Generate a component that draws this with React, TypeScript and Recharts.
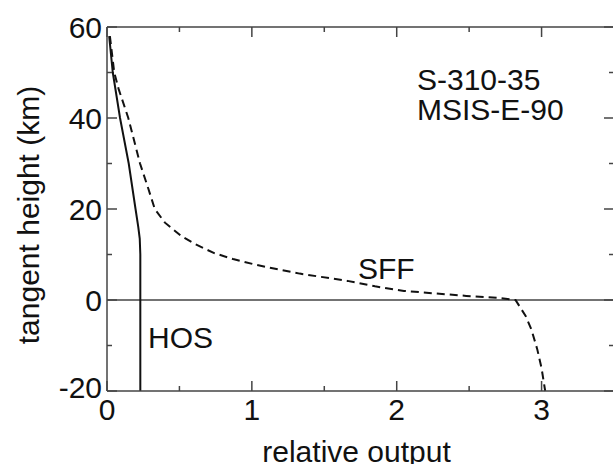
import { LineChart, Line, XAxis, YAxis, ReferenceLine } from "recharts";

// axis ticks
const X_TICKS = [0, 0.5, 1, 1.5, 2, 2.5, 3, 3.5];
const X_LABELS = [0, 1, 2, 3];
const Y_TICKS = [-20, -10, 0, 10, 20, 30, 40, 50, 60];
const Y_LABELS = [-20, 0, 20, 40, 60];

// HOS (solid)
const HOS_X = [0.015, 0.04, 0.09, 0.15, 0.197, 0.216, 0.226, 0.23, 0.23];
const HOS_H = [58, 50, 40, 30, 20, 16, 13.5, 10, -20];

// SFF (dashed)
const SFF_X = [0.02, 0.05, 0.08, 0.147, 0.228, 0.285, 0.33, 0.4, 0.515, 0.607, 0.74, 0.87, 1.02, 1.17, 1.33, 1.66, 1.85, 2.05, 2.48, 2.7, 2.82, 2.85, 2.89, 2.93, 2.97, 3.0, 3.025];
const SFF_H = [58, 50, 46.4, 40, 30, 24.5, 20, 17, 14, 12.3, 10.3, 9, 7.8, 6.8, 5.8, 4.2, 3, 2, 0.9, 0.45, 0, -1.5, -3.5, -6.5, -10.8, -15, -20];

const hos = HOS_X.map((x, i) => ({ x, h: HOS_H[i] }));
const sff = SFF_X.map((x, i) => ({ x, h: SFF_H[i] }));

const FONT = "'Liberation Sans', Arial, Helvetica, sans-serif";
const INK = "#111";
const AXIS = "#444";

const txt = { fontSize: 30, fontFamily: FONT, fill: INK };

// ticks point inward; integers / multiples of 20 are the long ones
const BottomTick = (p: any) => {
  const v = p.payload.value;
  const major = Number.isInteger(v);
  return (
    <g>
      <line x1={p.x} y1={p.y} x2={p.x} y2={p.y - (major ? 10 : 5)} stroke={AXIS} strokeWidth={1.5} />
      {X_LABELS.includes(v) && (
        <text x={p.x} y={p.y + 29} textAnchor="middle" {...txt}>{v}</text>
      )}
    </g>
  );
};

const TopTick = (p: any) => {
  const major = Number.isInteger(p.payload.value);
  return <line x1={p.x} y1={p.y} x2={p.x} y2={p.y + (major ? 10 : 5)} stroke={AXIS} strokeWidth={1.5} />;
};

const LeftTick = (p: any) => {
  const v = p.payload.value;
  const major = v % 20 === 0;
  return (
    <g>
      <line x1={p.x} y1={p.y} x2={p.x + (major ? 10 : 5)} y2={p.y} stroke={AXIS} strokeWidth={1.5} />
      {Y_LABELS.includes(v) && (
        <text x={p.x - 5} y={p.y + (v === -20 ? 7 : 11)} textAnchor="end" {...txt}>{v}</text>
      )}
    </g>
  );
};

const RightTick = (p: any) => {
  const major = p.payload.value % 20 === 0;
  return <line x1={p.x} y1={p.y} x2={p.x - (major ? 10 : 5)} y2={p.y} stroke={AXIS} strokeWidth={1.5} />;
};

export default function App() {
  return (
    <div style={{ position: "fixed", left: 0, top: 0, width: 613, height: 464, overflow: "hidden", background: "#fff" }}>
      <LineChart width={620} height={464} margin={{ top: 26, left: 106, right: 5, bottom: 72 }}>
        <XAxis
          type="number"
          dataKey="x"
          domain={[0, 3.5]}
          ticks={X_TICKS}
          interval={0}
          height={1}
          tickSize={0}
          tickMargin={0}
          tickLine={false}
          tick={BottomTick}
          axisLine={{ stroke: AXIS, strokeWidth: 1.5 }}
          label={{
            content: (lp: any) => (
              <text x={lp.viewBox.x + lp.viewBox.width / 2 - 4} y={lp.viewBox.y + 71} textAnchor="middle" {...txt}>
                relative output
              </text>
            ),
          }}
        />
        <XAxis
          xAxisId="top"
          orientation="top"
          type="number"
          dataKey="x"
          domain={[0, 3.5]}
          ticks={X_TICKS}
          interval={0}
          height={1}
          tickSize={0}
          tickMargin={0}
          tickLine={false}
          tick={TopTick}
          axisLine={{ stroke: AXIS, strokeWidth: 1.5 }}
        />
        <YAxis
          type="number"
          domain={[-20, 60]}
          ticks={Y_TICKS}
          interval={0}
          width={1}
          tickSize={0}
          tickMargin={0}
          tickLine={false}
          tick={LeftTick}
          axisLine={{ stroke: AXIS, strokeWidth: 1.5 }}
          label={{
            content: (lp: any) => {
              const cx = lp.viewBox.x - 78;
              const cy = lp.viewBox.y + lp.viewBox.height / 2 + 6;
              return (
                <text x={cx} y={cy} transform={`rotate(-90 ${cx} ${cy})`} textAnchor="middle" dominantBaseline="central" {...txt}>
                  tangent height (km)
                </text>
              );
            },
          }}
        />
        <YAxis
          yAxisId="right"
          orientation="right"
          type="number"
          domain={[-20, 60]}
          ticks={Y_TICKS}
          interval={0}
          width={1}
          tickSize={0}
          tickMargin={0}
          tickLine={false}
          tick={RightTick}
          axisLine={{ stroke: AXIS, strokeWidth: 1.5 }}
        />
        <ReferenceLine y={0} stroke={AXIS} strokeWidth={1.5} />
        <Line data={hos} dataKey="h" type="linear" stroke={INK} strokeWidth={2} dot={false} isAnimationActive={false} />
        {/* SFF sits on the twin (top/right) axes so their ticks get drawn; same domains */}
        <Line
          data={sff}
          dataKey="h"
          xAxisId="top"
          yAxisId="right"
          type="linear"
          stroke={INK}
          strokeWidth={2}
          strokeDasharray="8 5"
          dot={false}
          isAnimationActive={false}
        />
        <text x={417} y={90} {...txt}>S-310-35</text>
        <text x={417} y={120} {...txt}>MSIS-E-90</text>
        <text x={358} y={279} {...txt}>SFF</text>
        <text x={148} y={348} {...txt}>HOS</text>
      </LineChart>
    </div>
  );
}
